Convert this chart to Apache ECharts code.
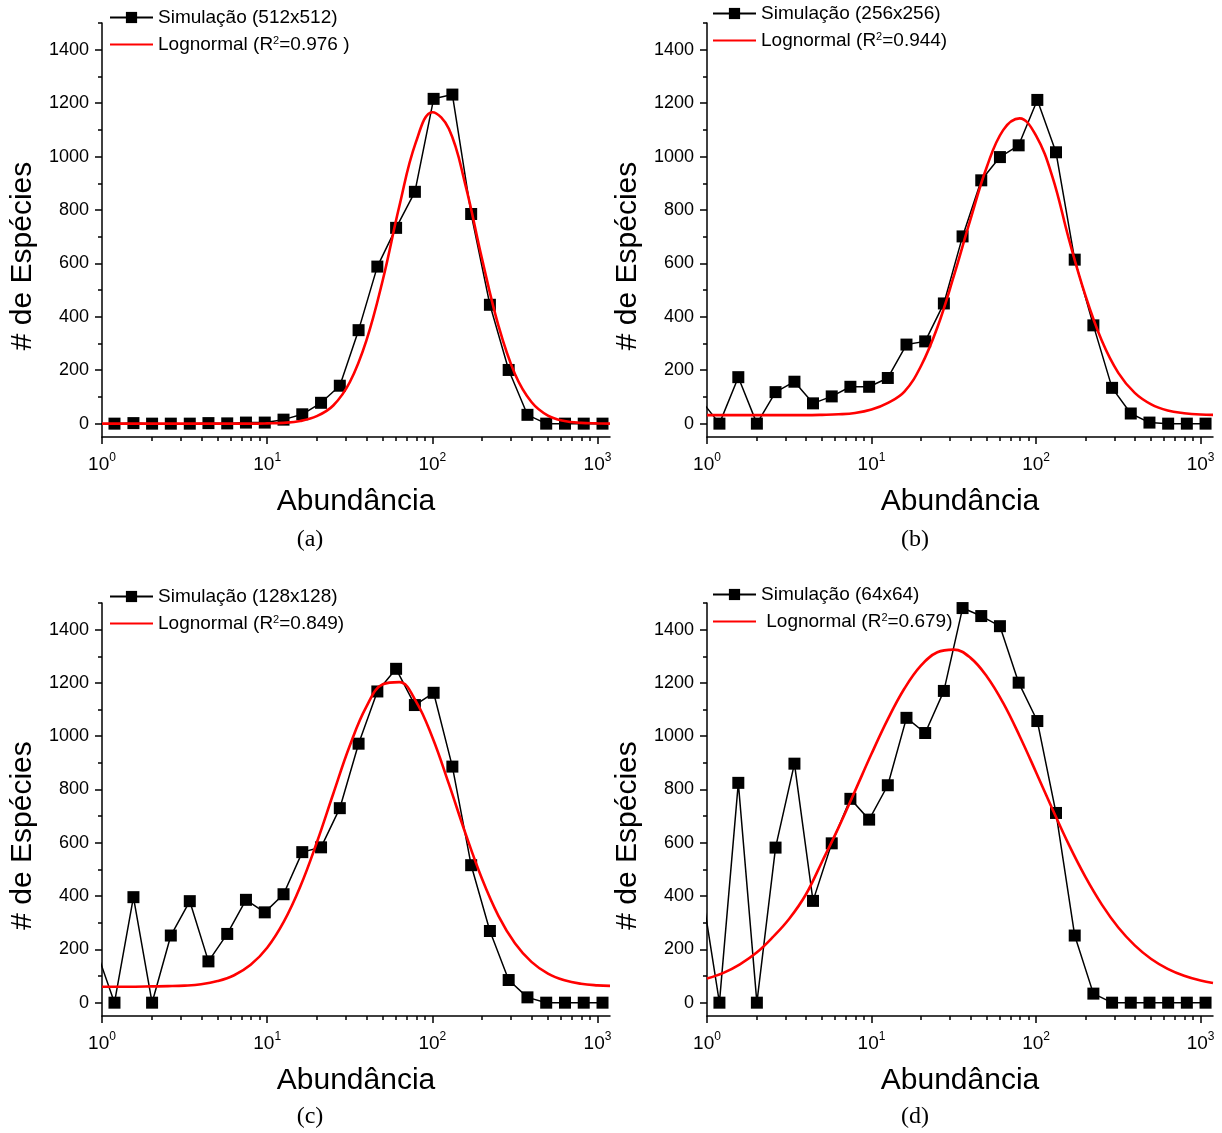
<!DOCTYPE html>
<html><head><meta charset="utf-8">
<script src="https://cdn.jsdelivr.net/npm/echarts@6/dist/echarts.min.js"></script>
<style>html,body{margin:0;padding:0;background:#fff}#c{width:1222px;height:1133px}</style>
</head><body><div id="c"></div>
<script>
// Abundance bin positions (x) shared by all simulations
const abundance = [0.918, 1.19, 1.55, 2.01, 2.61, 3.40, 4.41, 5.73, 7.44, 9.67, 12.56, 16.31, 21.19, 27.53, 35.76, 46.45, 60.33, 78.4, 101.8, 132.2, 171.8, 223.1, 289.8, 376.5, 489.0, 635.3, 825.2, 1072];
const simA = [0, 0, 2, 0, 0, 0, 2, 1, 4, 4, 15, 35, 78, 142, 350, 588, 733, 868, 1216, 1232, 785, 445, 201, 33, 0, 0, 0, 0];
const simB = [88, 0, 174, 0, 118, 157, 76, 102, 138, 138, 171, 296, 308, 450, 701, 911, 998, 1042, 1212, 1016, 614, 368, 134, 38, 4, 0, 0, 0];
const simC = [200, 0, 396, 0, 252, 381, 155, 258, 386, 339, 407, 565, 583, 730, 972, 1168, 1253, 1117, 1163, 886, 516, 269, 85, 20, 0, 0, 0, 0];
const simD = [443, 0, 825, 0, 582, 897, 382, 598, 765, 687, 816, 1069, 1012, 1170, 1481, 1451, 1413, 1201, 1057, 712, 252, 34, 0, 0, 0, 0, 0, 0];

// Lognormal fit curves
const fitX = [1, 1.259, 1.585, 1.995, 2.512, 3.162, 3.981, 5.012, 6.310, 7.943, 10, 12.59, 15.85, 19.95, 25.12, 31.62, 39.81, 50.12, 63.10, 79.43, 100, 125.9, 158.5, 199.5, 251.2, 316.2, 398.1, 501.2, 631.0, 794.3, 1000, 1190];
const fitA = [0, 0, 0, 0, 0, 0, 0, 0, 0, 0, 1, 3, 10, 28, 68, 155, 310, 538, 814, 1053, 1166, 1104, 894, 619, 367, 186, 81, 30, 10, 3, 1, 0];
const fitB = [32, 32, 32, 32, 32, 32, 32, 33, 35, 40, 53, 78, 120, 215, 360, 552, 762, 960, 1099, 1143, 1078, 923, 690, 480, 310, 190, 115, 72, 49, 39, 34, 33];
const fitC = [60, 60, 60, 61, 62, 64, 69, 81, 103, 142, 206, 303, 435, 600, 784, 964, 1110, 1195, 1203, 1132, 996, 821, 636, 466, 326, 223, 153, 109, 84, 71, 65, 63];
const fitD = [91, 112, 144, 187, 246, 315, 405, 530, 658, 795, 934, 1065, 1179, 1265, 1315, 1325, 1295, 1225, 1125, 1001, 865, 726, 592, 472, 368, 282, 215, 164, 127, 101, 83, 74];

const simNames = ['Simulação (512x512)', 'Simulação (256x256)', 'Simulação (128x128)', 'Simulação (64x64)'];
const fitNames = ['Lognormal (R²=0.976 )', 'Lognormal (R²=0.944)', 'Lognormal (R²=0.849)', ' Lognormal (R²=0.679)'];
const panelLabels = ['(a)', '(b)', '(c)', '(d)'];
const yTicks = [0, 200, 400, 600, 800, 1000, 1200, 1400];
const yMinorTicks = [100, 300, 500, 700, 900, 1100, 1300, 1500];
const xMajorTicks = [1, 10, 100, 1000];
const xMinorTicks = [2, 3, 4, 5, 6, 7, 8, 9, 20, 30, 40, 50, 60, 70, 80, 90, 200, 300, 400, 500, 600, 700, 800, 900];
const xTitle = 'Abundância';
const yTitle = '# de Espécies';

const sims = [simA, simB, simC, simD];
const fits = [fitA, fitB, fitC, fitD];

const FONT = '"Liberation Sans", Arial, sans-serif';
const grids = [
  {left: 102, top: 23, width: 508, height: 414},
  {left: 707, top: 23, width: 506, height: 414},
  {left: 102, top: 603, width: 508, height: 413},
  {left: 707, top: 603, width: 506, height: 413}
];
const legendPos = [
  {left: 109, top: 8},
  {left: 712, top: 4},
  {left: 109, top: 587},
  {left: 712, top: 585}
];
const captionPos = [[310, 540], [915, 540], [310, 1117], [915, 1117]];

const xAxes = [], yAxes = [], series = [], legends = [], graphics = [];
const black = '#000';
for (let p = 0; p < 4; p++) {
  xAxes.push({
    type: 'log', logBase: 10, gridIndex: p, min: 1, max: 1190, position: 'bottom',
    axisLine: {show: true, onZero: false, lineStyle: {color: black, width: 1.5}},
    axisTick: {show: true, inside: false, length: 7, customValues: xMajorTicks, lineStyle: {color: black, width: 1.5}},
    axisLabel: {
      show: true, customValues: xMajorTicks, margin: 15, color: black,
      formatter: v => '{b|10}{s|' + Math.round(Math.log10(v)) + '}',
      rich: {
        b: {fontSize: 19, fontFamily: FONT, color: black, lineHeight: 22, verticalAlign: 'bottom'},
        s: {fontSize: 12, fontFamily: FONT, color: black, lineHeight: 12, verticalAlign: 'top'}
      }
    },
    splitLine: {show: false},
    name: xTitle, nameLocation: 'middle', nameGap: 50,
    nameTextStyle: {fontSize: 30, color: black, fontFamily: FONT}
  });
  xAxes.push({
    type: 'log', logBase: 10, gridIndex: p, min: 1, max: 1190, position: 'bottom',
    axisLine: {show: false, onZero: false},
    axisTick: {show: true, inside: false, length: 4, customValues: xMinorTicks, lineStyle: {color: black, width: 1.5}},
    axisLabel: {show: false},
    splitLine: {show: false}
  });
  yAxes.push({
    type: 'value', gridIndex: p, min: -50, max: 1500, position: 'left',
    axisLine: {show: true, onZero: false, lineStyle: {color: black, width: 1.5}},
    axisTick: {show: true, inside: false, length: 7, customValues: yTicks, lineStyle: {color: black, width: 1.5}},
    axisLabel: {show: true, customValues: yTicks, margin: 13, color: black, fontSize: 18, fontFamily: FONT,
      formatter: v => String(v)},
    splitLine: {show: false},
    name: yTitle, nameLocation: 'middle', nameGap: 64, nameRotate: 90,
    nameTextStyle: {fontSize: 30, color: black, fontFamily: FONT, padding: [0, 52, 0, 0]}
  });
  yAxes.push({
    type: 'value', gridIndex: p, min: -50, max: 1500, position: 'left',
    axisLine: {show: false, onZero: false},
    axisTick: {show: true, inside: false, length: 4, customValues: yMinorTicks, lineStyle: {color: black, width: 1.5}},
    axisLabel: {show: false},
    splitLine: {show: false}
  });
  series.push({
    type: 'line', name: simNames[p], xAxisIndex: 2 * p, yAxisIndex: 2 * p,
    data: abundance.map((x, i) => [x, sims[p][i]]),
    symbol: 'rect', symbolSize: 12, showSymbol: true, clip: true,
    itemStyle: {color: black}, lineStyle: {color: black, width: 1.5}, z: 2
  });
  series.push({
    type: 'line', name: fitNames[p], xAxisIndex: 2 * p, yAxisIndex: 2 * p,
    data: fitX.map((x, i) => [x, fits[p][i]]),
    symbol: 'none', showSymbol: false, smooth: 0.4, clip: true,
    itemStyle: {color: '#ff0000'}, lineStyle: {color: '#ff0000', width: 2.6}, z: 3
  });
  legends.push({
    orient: 'vertical', left: legendPos[p].left, top: legendPos[p].top, padding: 0,
    itemWidth: 43, itemHeight: 14, itemGap: 8, selectedMode: false,
    data: [simNames[p], {name: fitNames[p], itemStyle: {opacity: 0, color: 'rgba(0,0,0,0)'}}],
    formatter: n => n.replace('R²', 'R{sup|2}'),
    textStyle: {fontSize: 19, color: black, fontFamily: FONT,
      rich: {sup: {fontSize: 11, fontFamily: FONT, color: black, verticalAlign: 'top', lineHeight: 12}}}
  });
  graphics.push({
    type: 'text', x: captionPos[p][0], y: captionPos[p][1],
    style: {text: panelLabels[p], font: '24px "Liberation Serif", "Times New Roman", serif',
      fill: black, align: 'center', verticalAlign: 'middle', textAlign: 'center', textVerticalAlign: 'middle'}
  });
}

const chart = echarts.init(document.getElementById('c'), null, {renderer: 'canvas'});
chart.setOption({
  animation: false,
  backgroundColor: '#fff',
  textStyle: {fontFamily: FONT},
  grid: grids,
  xAxis: xAxes,
  yAxis: yAxes,
  legend: legends,
  series: series,
  graphic: graphics
});
</script>
</body></html>
